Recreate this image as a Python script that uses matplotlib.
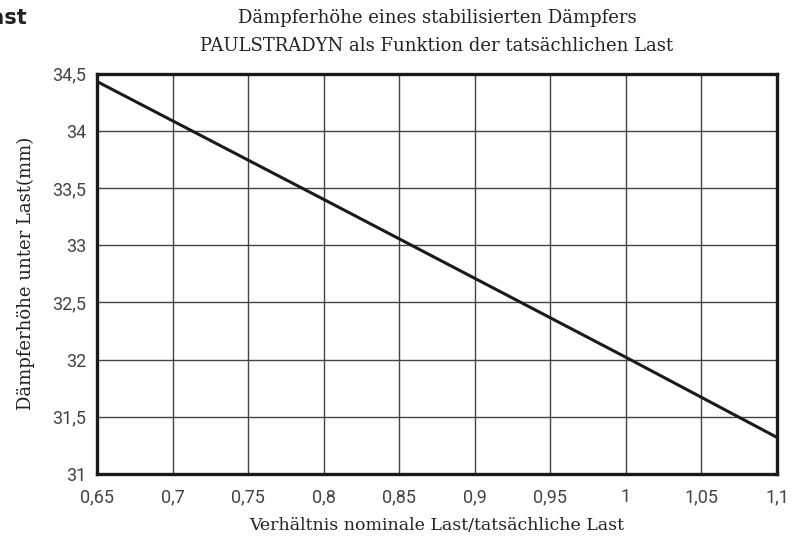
import matplotlib
matplotlib.use("Agg")
import matplotlib.pyplot as plt
from matplotlib.ticker import FixedLocator

# Werte
verhaeltnis = [0.65, 0.8, 1.0, 1.1]
hoehe = [34.43, 33.40, 32.02, 31.32]

x_ticks = [0.65, 0.7, 0.75, 0.8, 0.85, 0.9, 0.95, 1.0, 1.05, 1.1]
x_labels = ["0,65", "0,7", "0,75", "0,8", "0,85", "0,9", "0,95", "1", "1,05", "1,1"]
y_ticks = [31, 31.5, 32, 32.5, 33, 33.5, 34, 34.5]
y_labels = ["31", "31,5", "32", "32,5", "33", "33,5", "34", "34,5"]

titel = "Dämpferhöhe eines stabilisierten Dämpfers\nPAULSTRADYN als Funktion der tatsächlichen Last"

fig = plt.figure(figsize=(7.92, 5.4), dpi=100)
ax = fig.add_axes([97 / 792, 1 - 474 / 540, 680 / 792, 400.5 / 540])

ax.plot(verhaeltnis, hoehe, color="#1a1a1a", linewidth=2.2, solid_capstyle="butt")

ax.set_xlim(0.65, 1.1)
ax.set_ylim(31, 34.5)
ax.xaxis.set_major_locator(FixedLocator(x_ticks))
ax.yaxis.set_major_locator(FixedLocator(y_ticks))
ax.set_xticklabels(x_labels, family="Roboto", fontsize=13, color="#444444")
ax.set_yticklabels(y_labels, family="Roboto", fontsize=13, color="#444444")
ax.tick_params(length=0, pad=8)
ax.tick_params(axis="x", pad=10)

ax.grid(True, color="#444444", linewidth=1.0)
ax.set_axisbelow(True)
for s in ax.spines.values():
    s.set_linewidth(2.4)
    s.set_color("#1a1a1a")

ax.set_xlabel("Verhältnis nominale Last/tatsächliche Last", family="DejaVu Serif",
              fontsize=12.5, color="#222222", labelpad=8)
ax.set_ylabel("Dämpferhöhe unter Last(mm)", family="DejaVu Serif",
              fontsize=13, color="#222222", labelpad=12)
ax.set_title(titel, family="DejaVu Serif", fontsize=13, color="#222222",
             linespacing=1.75, pad=16)

# abgeschnittener Rest eines Titels links oben
fig.text(27 / 792, 1 - 18 / 540, "Last", ha="right", va="center",
         fontsize=15, fontweight="bold", family="DejaVu Sans", color="#222222")

fig.savefig("out.png", dpi=100)
